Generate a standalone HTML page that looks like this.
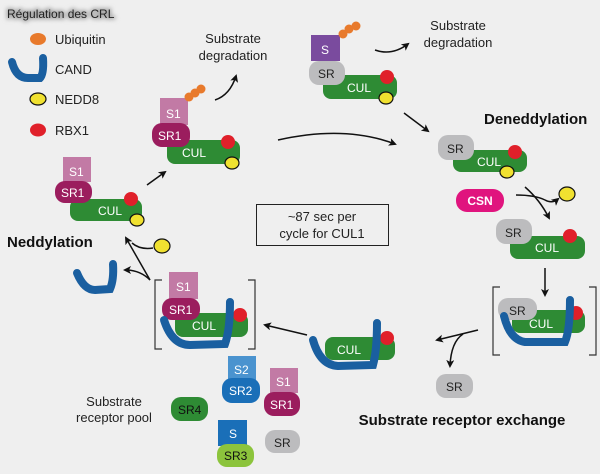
<!DOCTYPE html>
<html><head><meta charset="utf-8"><style>
html,body{margin:0;padding:0;background:#efefef}
svg{display:block}
text{font-family:"Liberation Sans",sans-serif}
</style></head><body>
<svg width="600" height="474" viewBox="0 0 600 474" xmlns="http://www.w3.org/2000/svg">
<defs>
<marker id="ah" markerWidth="8" markerHeight="8" refX="6" refY="4" orient="auto" markerUnits="userSpaceOnUse"><path d="M0,0 L8,4 L0,8 L2,4 Z" fill="#111"/></marker>
<filter id="sh" x="-10%" y="-40%" width="120%" height="180%"><feGaussianBlur stdDeviation="2"/></filter>
</defs>
<rect width="600" height="474" fill="#efefef"/>
<g font-size="13" fill="#222">
<text x="7" y="18" font-size="12" fill="#999" filter="url(#sh)" stroke="#aaa" stroke-width="3">Régulation des CRL</text>
<text x="7" y="18" font-size="12">Régulation des CRL</text>
<ellipse cx="38" cy="39" rx="8" ry="6" fill="#e87a2c"/>
<text x="55" y="44">Ubiquitin</text>
<path d="M12,62 Q16,78 28,78 L40,78 Q44,74 43,58" fill="none" stroke="#1a5fa0" stroke-width="8" stroke-linecap="round"/>
<text x="55" y="74">CAND</text>
<ellipse cx="38" cy="99" rx="8" ry="6" fill="#f0e130" stroke="#111" stroke-width="1.2"/>
<text x="55" y="104">NEDD8</text>
<ellipse cx="38" cy="130" rx="8" ry="6.5" fill="#e0202a"/>
<text x="55" y="135">RBX1</text>
</g>

<!-- Complex A -->
<rect x="70" y="199" width="72" height="22" rx="8" fill="#2e8b34"/>
<text x="98" y="215" fill="#fff" font-size="12">CUL</text>
<circle cx="131" cy="199" r="7" fill="#e0202a"/>
<ellipse cx="137" cy="220" rx="7" ry="6" fill="#f0e130" stroke="#111" stroke-width="1.2"/>
<rect x="63" y="157" width="28" height="25" fill="#c27aa5"/>
<text x="69" y="176" fill="#fff" font-size="12">S1</text>
<rect x="55" y="181" width="37" height="22" rx="10" fill="#9b1d5e"/>
<text x="61" y="197" fill="#fff" font-size="12">SR1</text>
<line x1="147" y1="185" x2="165" y2="172" stroke="#111" stroke-width="1.5" marker-end="url(#ah)"/>

<!-- Complex B -->
<rect x="167" y="140" width="73" height="24" rx="8" fill="#2e8b34"/>
<text x="182" y="157" fill="#fff" font-size="12">CUL</text>
<circle cx="228" cy="142" r="7" fill="#e0202a"/>
<ellipse cx="232" cy="163" rx="7" ry="6" fill="#f0e130" stroke="#111" stroke-width="1.2"/>
<rect x="160" y="98" width="28" height="27" fill="#c27aa5"/>
<text x="166" y="118" fill="#fff" font-size="12">S1</text>
<rect x="152" y="123" width="38" height="24" rx="10" fill="#9b1d5e"/>
<text x="158" y="140" fill="#fff" font-size="12">SR1</text>
<circle cx="189" cy="97" r="4.5" fill="#e87a2c"/><circle cx="195" cy="93" r="4.5" fill="#e87a2c"/><circle cx="201" cy="89" r="4.5" fill="#e87a2c"/>
<path d="M215,100 Q230,95 236,76" fill="none" stroke="#111" stroke-width="1.5" marker-end="url(#ah)"/>
<text x="233" y="43" font-size="13" fill="#222" text-anchor="middle">Substrate</text>
<text x="233" y="60" font-size="13" fill="#222" text-anchor="middle">degradation</text>

<path d="M278,140 Q345,125 395,144" fill="none" stroke="#111" stroke-width="1.5" marker-end="url(#ah)"/>

<!-- Complex C -->
<rect x="323" y="75" width="74" height="24" rx="8" fill="#2e8b34"/>
<text x="347" y="92" fill="#fff" font-size="12">CUL</text>
<circle cx="387" cy="77" r="7" fill="#e0202a"/>
<ellipse cx="386" cy="98" rx="7" ry="6" fill="#f0e130" stroke="#111" stroke-width="1.2"/>
<rect x="311" y="35" width="29" height="26" fill="#7a4b9e"/>
<text x="321" y="54" fill="#fff" font-size="12">S</text>
<rect x="309" y="61" width="36" height="24" rx="10" fill="#bcbcbe"/>
<text x="318" y="78" fill="#222" font-size="12">SR</text>
<circle cx="343" cy="34" r="4.5" fill="#e87a2c"/><circle cx="349" cy="29" r="4.5" fill="#e87a2c"/><circle cx="356" cy="26" r="4.5" fill="#e87a2c"/>
<path d="M375,50 Q392,56 408,44" fill="none" stroke="#111" stroke-width="1.5" marker-end="url(#ah)"/>
<text x="458" y="30" font-size="13" fill="#222" text-anchor="middle">Substrate</text>
<text x="458" y="47" font-size="13" fill="#222" text-anchor="middle">degradation</text>

<line x1="404" y1="113" x2="428" y2="131" stroke="#111" stroke-width="1.5" marker-end="url(#ah)"/>
<text x="484" y="124" font-size="15" font-weight="bold" fill="#111">Deneddylation</text>

<!-- Complex D -->
<rect x="453" y="150" width="74" height="22" rx="8" fill="#2e8b34"/>
<text x="477" y="166" fill="#fff" font-size="12">CUL</text>
<circle cx="515" cy="152" r="7" fill="#e0202a"/>
<ellipse cx="507" cy="172" rx="7" ry="6" fill="#f0e130" stroke="#111" stroke-width="1.2"/>
<rect x="438" y="135" width="36" height="25" rx="10" fill="#bcbcbe"/>
<text x="447" y="153" fill="#222" font-size="12">SR</text>

<rect x="456" y="189" width="48" height="23" rx="11" fill="#e0147e"/>
<text x="480" y="205" fill="#fff" font-size="12" font-weight="bold" text-anchor="middle">CSN</text>
<path d="M516,195 Q535,195 545,200 Q552,204 558,199" fill="none" stroke="#111" stroke-width="1.5" marker-end="url(#ah)"/>
<path d="M525,187 Q540,200 549,218" fill="none" stroke="#111" stroke-width="1.5" marker-end="url(#ah)"/>
<ellipse cx="567" cy="194" rx="8" ry="7" fill="#f0e130" stroke="#111" stroke-width="1.2"/>

<!-- Complex E -->
<rect x="510" y="236" width="75" height="23" rx="8" fill="#2e8b34"/>
<text x="535" y="252" fill="#fff" font-size="12">CUL</text>
<circle cx="570" cy="236" r="7" fill="#e0202a"/>
<rect x="496" y="219" width="36" height="25" rx="10" fill="#bcbcbe"/>
<text x="505" y="237" fill="#222" font-size="12">SR</text>
<line x1="545" y1="268" x2="545" y2="295" stroke="#111" stroke-width="1.5" marker-end="url(#ah)"/>

<!-- Bracket right -->
<path d="M500,287 L493,287 L493,355 L500,355 M589,287 L596,287 L596,355 L589,355" fill="none" stroke="#333" stroke-width="1.2"/>
<rect x="512" y="310" width="73" height="23" rx="8" fill="#2e8b34"/>
<text x="529" y="328" fill="#fff" font-size="12">CUL</text>
<circle cx="576" cy="313" r="7" fill="#e0202a"/>
<rect x="498" y="298" width="39" height="22" rx="10" fill="#bcbcbe"/>
<text x="509" y="315" fill="#222" font-size="12">SR</text>
<path d="M504,316 Q510,340 525,342 L565,342 Q570,330 570,300" fill="none" stroke="#1a5fa0" stroke-width="8" stroke-linecap="round"/>

<line x1="478" y1="330" x2="437" y2="340" stroke="#111" stroke-width="1.5" marker-end="url(#ah)"/>
<path d="M463,334 Q451,342 450,366" fill="none" stroke="#111" stroke-width="1.5" marker-end="url(#ah)"/>
<rect x="436" y="374" width="37" height="24" rx="10" fill="#bcbcbe"/>
<text x="446" y="391" fill="#222" font-size="12">SR</text>
<text x="462" y="425" font-size="15" font-weight="bold" fill="#111" text-anchor="middle">Substrate receptor exchange</text>

<!-- Complex F -->
<rect x="325" y="337" width="70" height="23" rx="8" fill="#2e8b34"/>
<text x="337" y="354" fill="#fff" font-size="12">CUL</text>
<circle cx="387" cy="338" r="7" fill="#e0202a"/>
<path d="M313,340 Q320,365 338,366 L373,365 Q377,350 377,323" fill="none" stroke="#1a5fa0" stroke-width="8" stroke-linecap="round"/>
<line x1="307" y1="335" x2="265" y2="325" stroke="#111" stroke-width="1.5" marker-end="url(#ah)"/>

<!-- Bracket left -->
<path d="M162,280 L155,280 L155,349 L162,349 M248,280 L255,280 L255,349 L248,349" fill="none" stroke="#333" stroke-width="1.2"/>
<rect x="175" y="313" width="73" height="24" rx="8" fill="#2e8b34"/>
<text x="192" y="330" fill="#fff" font-size="12">CUL</text>
<circle cx="240" cy="315" r="7" fill="#e0202a"/>
<rect x="169" y="272" width="29" height="27" fill="#c27aa5"/>
<text x="176" y="291" fill="#fff" font-size="12">S1</text>
<rect x="162" y="298" width="38" height="22" rx="10" fill="#9b1d5e"/>
<text x="169" y="314" fill="#fff" font-size="12">SR1</text>
<path d="M164,320 Q172,345 190,345 L225,344 Q230,330 230,302" fill="none" stroke="#1a5fa0" stroke-width="8" stroke-linecap="round"/>

<!-- Neddylation -->
<text x="7" y="247" font-size="15" font-weight="bold" fill="#111">Neddylation</text>
<line x1="150" y1="280" x2="126" y2="238" stroke="#111" stroke-width="1.5" marker-end="url(#ah)"/>
<path d="M150,280 Q140,270 125,270" fill="none" stroke="#111" stroke-width="1.5" marker-end="url(#ah)"/>
<path d="M153,248 Q140,250 132,243" fill="none" stroke="#111" stroke-width="1.5"/>
<ellipse cx="162" cy="246" rx="8" ry="7" fill="#f0e130" stroke="#111" stroke-width="1.2"/>
<path d="M77,273 Q84,290 95,290 L110,289 Q114,280 113,264" fill="none" stroke="#1a5fa0" stroke-width="8" stroke-linecap="round"/>

<!-- box -->
<rect x="256.5" y="204.5" width="132" height="41" fill="none" stroke="#222" stroke-width="1"/>
<text x="322" y="221" font-size="13" fill="#222" text-anchor="middle">~87 sec per</text>
<text x="322" y="238" font-size="13" fill="#222" text-anchor="middle">cycle for CUL1</text>

<!-- pool -->
<rect x="228" y="356" width="28" height="25" fill="#4a93cf"/>
<text x="234" y="374" fill="#fff" font-size="12">S2</text>
<rect x="222" y="378" width="38" height="25" rx="10" fill="#1a6fb8"/>
<text x="229" y="395" fill="#fff" font-size="12">SR2</text>
<rect x="270" y="368" width="28" height="25" fill="#c27aa5"/>
<text x="276" y="386" fill="#fff" font-size="12">S1</text>
<rect x="264" y="392" width="36" height="24" rx="10" fill="#9b1d5e"/>
<text x="270" y="409" fill="#fff" font-size="12">SR1</text>
<rect x="171" y="397" width="37" height="24" rx="10" fill="#2e8b34"/>
<text x="178" y="414" fill="#111" font-size="12">SR4</text>
<text x="114" y="406" font-size="13" fill="#222" text-anchor="middle">Substrate</text>
<text x="114" y="422" font-size="13" fill="#222" text-anchor="middle">receptor pool</text>
<rect x="218" y="420" width="29" height="26" fill="#1a6fb8"/>
<text x="229" y="438" fill="#fff" font-size="12">S</text>
<rect x="217" y="444" width="37" height="23" rx="10" fill="#8cc43c"/>
<text x="224" y="460" fill="#111" font-size="12">SR3</text>
<rect x="265" y="430" width="35" height="23" rx="10" fill="#bcbcbe"/>
<text x="274" y="447" fill="#222" font-size="12">SR</text>
</svg>
</body></html>
